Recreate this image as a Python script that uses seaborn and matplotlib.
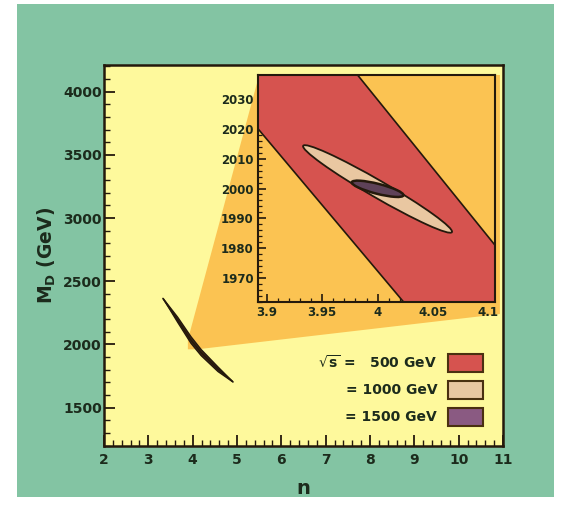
import numpy as np
import matplotlib
matplotlib.use("Agg")
import matplotlib.pyplot as plt
import seaborn as sns
from matplotlib.patches import Rectangle, Ellipse
from matplotlib.ticker import MultipleLocator
from matplotlib.transforms import Affine2D

# ---------------- data ----------------
main_n_ticks = [2, 3, 4, 5, 6, 7, 8, 9, 10, 11]
main_M_ticks = [1500, 2000, 2500, 3000, 3500, 4000]
inset_n_ticks = [3.9, 3.95, 4.0, 4.05, 4.1]
inset_n_labels = ["3.9", "3.95", "4", "4.05", "4.1"]
inset_M_ticks = [1970, 1980, 1990, 2000, 2010, 2020, 2030]

# allowed region in the main panel (all energies overlap at this scale)
region_n = [3.33, 3.65, 3.95, 4.18, 4.56, 4.90]
region_M = [2364, 2200, 2040, 1940, 1808, 1707]
region_halfwidth = [0, 20, 26, 24, 18, 0]

# zoom wedge joining the zoomed box to the inset
wedge_n = [3.892, 5.50, 10.93, 10.93, 4.106, 3.892]
wedge_M = [2038, 4132, 4132, 2241, 1962, 1962]

# sqrt(s) = 500 GeV band in the inset (lower / upper edges)
band_n = [3.88, 4.13]
band_low_M = [2025.3, 1915.0]
band_up_M = [2084.8, 1970.0]

# sqrt(s) = 1000 GeV and 1500 GeV ellipses: tips (n, M) and half width
ell1000_tips_n = [3.9328, 4.0671]
ell1000_tips_M = [2014.3, 1985.4]
ell1000_halfwidth = 8.5
ell1500_tips_n = [3.9767, 4.0233]
ell1500_tips_M = [2002.1, 1997.7]
ell1500_halfwidth = 5.0

legend_labels = [r"$\sqrt{\mathbf{s}}$ =   500 GeV", "= 1000 GeV", "= 1500 GeV"]

# ---------------- style ----------------
GREEN = "#83c4a3"
YELLOW = "#fef99c"
ORANGE = "#fbc352"
RED = "#d6534f"
TAN = "#e9c7a1"
PURPLE = "#8a5a82"
DARK = "#24190c"
TXT = "#1c2b1c"
BROWN = "#4a2a14"

sns.set_theme(style="ticks")
plt.rcParams["font.family"] = ["DejaVu Sans"]
plt.rcParams["mathtext.fontset"] = "dejavusans"

W, H = 566, 505
fig = plt.figure(figsize=(W / 100, H / 100), dpi=100)
fig.patch.set_facecolor("white")
fig.add_artist(Rectangle((17 / W, 8 / H), 537 / W, 493 / H,
                         transform=fig.transFigure, facecolor=GREEN,
                         edgecolor="none", zorder=-10))

# ---------------- main axes ----------------
ax = fig.add_axes([104 / W, (H - 446) / H, 399 / W, 381 / H])
ax.set_facecolor(YELLOW)

ax.fill(wedge_n, wedge_M, color=ORANGE, lw=0, zorder=1)

rn = np.array(region_n)
rM = np.array(region_M)
rw = np.array(region_halfwidth)
ax.fill_between(rn, rM - rw, rM + rw, facecolor=BROWN, edgecolor=DARK,
                lw=1.0, zorder=3)
sns.lineplot(x=region_n, y=region_M, ax=ax, color=DARK, lw=1.2,
             sort=False, zorder=4)

ax.set_xlim(2, 11)
ax.set_ylim(1197, 4211)
ax.set_xticks(main_n_ticks)
ax.set_xticklabels([str(v) for v in main_n_ticks])
ax.set_yticks(main_M_ticks)
ax.set_yticklabels([str(v) for v in main_M_ticks])
ax.xaxis.set_minor_locator(MultipleLocator(0.2))
ax.yaxis.set_minor_locator(MultipleLocator(100))
ax.tick_params(which="both", direction="in", top=False, right=False,
               color=DARK, labelcolor=TXT)
ax.tick_params(which="major", length=8, width=1.3, labelsize=10)
ax.tick_params(axis="y", which="major", pad=1.5)
ax.tick_params(axis="x", which="major", pad=5)
ax.tick_params(which="minor", length=4, width=1.0)
for lab in ax.get_xticklabels() + ax.get_yticklabels():
    lab.set_fontweight("bold")
for sp in ax.spines.values():
    sp.set_color(DARK)
    sp.set_linewidth(1.8)
    sp.set_visible(True)

ax.set_xlabel("n", fontsize=14, fontweight="bold", color=TXT, labelpad=9)
ax.set_ylabel(r"M$_{\mathbf{D}}$ (GeV)", fontsize=13.5, fontweight="bold",
              color=TXT, labelpad=4)

# legend (text + swatches)
leg_colors = [RED, TAN, PURPLE]
leg_y = [0.218, 0.147, 0.076]
for lab, col, yy in zip(legend_labels, leg_colors, leg_y):
    ax.text(0.835, yy, lab, transform=ax.transAxes, ha="right", va="center",
            fontsize=10, fontweight="bold", color=TXT, zorder=6)
    ax.add_patch(Rectangle((0.862, yy - 0.024), 0.088, 0.048,
                           transform=ax.transAxes, facecolor=col,
                           edgecolor="#4a3010", lw=1.5, zorder=6))

# ---------------- inset ----------------
axi = fig.add_axes([258 / W, (H - 302) / H, 237 / W, 227 / H])
axi.set_facecolor(ORANGE)
axi.fill_between(band_n, band_low_M, band_up_M, color=RED, lw=0, zorder=1)
sns.lineplot(x=band_n, y=band_low_M, ax=axi, color=DARK, lw=1.2, zorder=2)
sns.lineplot(x=band_n, y=band_up_M, ax=axi, color=DARK, lw=1.2, zorder=2)

axi.set_xlim(3.892, 4.106)
axi.set_ylim(1962, 2038)

# ellipses drawn in a scaled (roughly isotropic) frame of the inset data
SX, SY = 1107.5, 2.987
scaled = Affine2D().scale(1 / SX, 1 / SY) + axi.transData


def add_ellipse(tips_n, tips_M, halfw, face, edge, lw, z):
    cx = (tips_n[0] + tips_n[1]) / 2 * SX
    cy = (tips_M[0] + tips_M[1]) / 2 * SY
    dx = (tips_n[1] - tips_n[0]) * SX
    dy = (tips_M[1] - tips_M[0]) * SY
    length = np.hypot(dx, dy)
    ang = np.degrees(np.arctan2(dy, dx))
    axi.add_patch(Ellipse((cx, cy), length, 2 * halfw, angle=ang,
                          transform=scaled, facecolor=face, edgecolor=edge,
                          lw=lw, zorder=z))


add_ellipse(ell1000_tips_n, ell1000_tips_M, ell1000_halfwidth, TAN, DARK, 1.3, 3)
add_ellipse(ell1500_tips_n, ell1500_tips_M, ell1500_halfwidth, "#5e4258", DARK, 1.8, 4)

axi.set_xticks(inset_n_ticks)
axi.set_xticklabels(inset_n_labels)
axi.set_yticks(inset_M_ticks)
axi.set_yticklabels([str(v) for v in inset_M_ticks])
axi.xaxis.set_minor_locator(MultipleLocator(0.01))
axi.yaxis.set_minor_locator(MultipleLocator(2))
axi.tick_params(which="both", direction="in", top=False, right=False,
                color=DARK, labelcolor=TXT)
axi.tick_params(which="major", length=6, width=1.2, labelsize=8.5, pad=3)
axi.tick_params(which="minor", length=3, width=0.9)
for lab in axi.get_xticklabels() + axi.get_yticklabels():
    lab.set_fontweight("bold")
for sp in axi.spines.values():
    sp.set_color(DARK)
    sp.set_linewidth(1.5)
    sp.set_visible(True)
axi.set_xlabel("")
axi.set_ylabel("")

fig.savefig("out.png", dpi=100)
